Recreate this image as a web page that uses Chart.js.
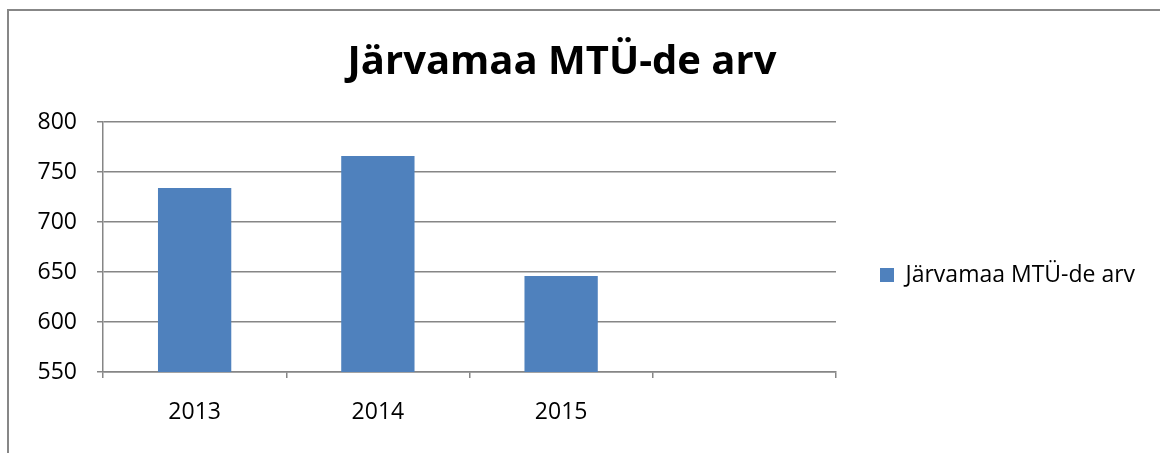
<!DOCTYPE html>
<html>
<head>
<meta charset="utf-8">
<script src="https://cdn.jsdelivr.net/npm/chart.js@4"></script>
<style>
    html, body { margin: 0; padding: 0; background: #fff; }
    #wrap { position: relative; width: 1160px; height: 453px; }
    #frame {
        position: absolute; left: 7px; top: 9px; right: -10px; bottom: -10px;
        border-top: 2px solid #878787; border-left: 2px solid #878787;
        pointer-events: none;
    }
</style>
</head>
<body>
<div id="wrap">
    <canvas id="chart" width="1160" height="453"></canvas>
    <div id="frame"></div>
</div>
<script>
const years = ['2013', '2014', '2015', ''];
const counts = [734, 766, 646, null];
const seriesName = 'Järvamaa MTÜ-de arv';
const yMin = 550;
const yMax = 800;
const yStep = 50;

const gridColor = '#868686';
const barColor = '#4F81BD';
const fontFamily = '"Open Sans", "Noto Sans", sans-serif';

document.addEventListener('DOMContentLoaded', function() {
    const ctx = document.getElementById('chart').getContext('2d');

    new Chart(ctx, {
        type: 'bar',
        data: {
            labels: years,
            datasets: [{
                label: seriesName,
                data: counts,
                backgroundColor: barColor,
                borderWidth: 0,
                barPercentage: 0.4,
                categoryPercentage: 1
            }]
        },
        options: {
            responsive: false,
            animation: false,
            // uneven side padding shifts the centred title to where it sits in the original
            layout: { padding: { left: -21, right: 15, top: 0, bottom: 0 } },
            plugins: {
                title: {
                    display: true,
                    text: seriesName,
                    color: '#000',
                    font: { family: fontFamily, size: 40, weight: 'bold', lineHeight: 1.2 },
                    padding: { top: 39, bottom: 35 }
                },
                legend: {
                    position: 'right',
                    fullSize: false,
                    maxWidth: 309,
                    title: {
                        display: true,
                        text: ' ',
                        font: { size: 12, lineHeight: 1.2 },
                        padding: 20.8
                    },
                    labels: {
                        boxWidth: 14,
                        boxHeight: 14,
                        padding: 44,
                        color: '#000',
                        font: { family: fontFamily, size: 23 }
                    }
                },
                tooltip: { enabled: false }
            },
            scales: {
                x: {
                    offset: true,
                    grid: {
                        offset: true,
                        drawOnChartArea: false,
                        color: gridColor,
                        lineWidth: 1.5,
                        tickLength: 6
                    },
                    border: { color: gridColor, width: 1.5 },
                    ticks: {
                        color: '#000',
                        padding: 21,
                        font: { family: fontFamily, size: 23 }
                    },
                    afterFit: function(scale) { scale.height = 81; }
                },
                y: {
                    min: yMin,
                    max: yMax,
                    grid: { color: gridColor, lineWidth: 1.5, tickLength: 6 },
                    border: { color: gridColor, width: 1.5 },
                    ticks: {
                        stepSize: yStep,
                        color: '#000',
                        padding: 20,
                        font: { family: fontFamily, size: 23 }
                    },
                    afterFit: function(scale) { scale.width = 124; }
                }
            }
        }
    });
});
</script>
</body>
</html>
